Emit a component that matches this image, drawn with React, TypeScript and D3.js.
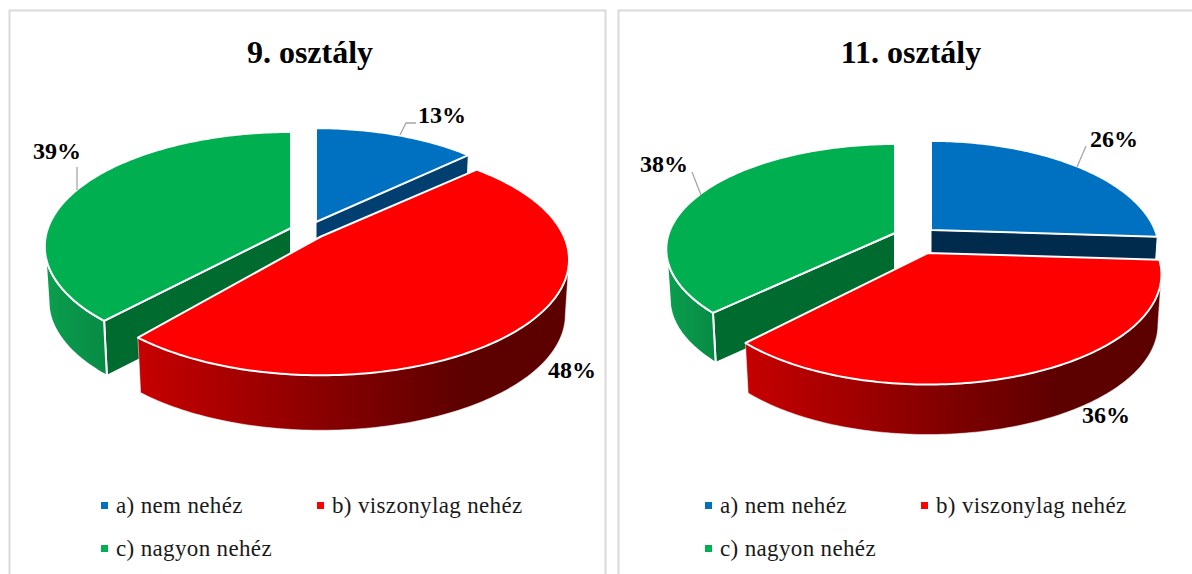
import React from "react";
import * as d3 from "d3";

const categories = ["a) nem nehéz", "b) viszonylag nehéz", "c) nagyon nehéz"];
const titleA = "9. osztály";
const titleB = "11. osztály";
const valuesA = [13, 48, 39];
const valuesB = [26, 36, 38];

// Layout of the projected slices (not data): apex, radius, squash, perspective, angle nudge
const layoutA = [
  { cx: 316, cy: 222, R: 229, ry: 107, p: 0.14, n0: 0, n1: 0 },
  { cx: 321, cy: 236.5, R: 243, ry: 111, p: 0.2, n0: 0, n1: 0 },
  { cx: 291, cy: 228, R: 243, ry: 111.5, p: 0.161, n0: 3.1, n1: 0 },
];
const layoutB = [
  { cx: 931, cy: 230, R: 224, ry: 106, p: 0.19, n0: 0, n1: 0 },
  { cx: 928, cy: 253, R: 229, ry: 106, p: 0.194, n0: 0, n1: 0 },
  { cx: 895, cy: 233, R: 226, ry: 102.7, p: 0.154, n0: 2.8, n1: 0 },
];
const labelsA = [
  { x: 442, y: 123, lead: [[400, 135], [406, 123], [416, 123]] },
  { x: 572, y: 378, lead: [] },
  { x: 57, y: 159, lead: [[77, 167], [77, 190]] },
];
const labelsB = [
  { x: 1114, y: 147, lead: [[1086, 146], [1077, 167]] },
  { x: 1106, y: 423, lead: [] },
  { x: 664, y: 172, lead: [[692, 172], [701, 195]] },
];

const TOP = ["#0070C0", "#FF0000", "#00B050"];
const SERIF = "'Liberation Serif', 'Times New Roman', serif";

type L = (typeof layoutA)[number];
const rad = (d: number) => (d * Math.PI) / 180;

function project(l: L, deg: number, depth = 0, shrink = 1): [number, number] {
  const u = Math.sin(rad(deg));
  const v = -Math.cos(rad(deg));
  const s = 1 / (1 - l.p * v);
  return [l.cx + l.R * u * s * shrink, l.cy + l.ry * v * s + depth];
}

const pie = d3.pie<number>().sort(null).value((d) => d);
const line = d3.line();

function Pie({ id, values, layout, labels, title, titleX, depth, shrink, legendX, gx }: any) {
  const arcs = pie(values);
  const deg = d3.scaleLinear().domain([0, 2 * Math.PI]).range([0, 360]);
  const gradId = (n: string) => `${id}-${n}`;
  const order = [0, 2, 1];
  const slices = arcs.map((a: any, i: number) => {
    const l = layout[i];
    const a0 = deg(a.startAngle) + l.n0;
    const a1 = deg(a.endAngle) + l.n1;
    const n = Math.max(8, Math.round(a1 - a0));
    const samples = d3.range(n + 1).map((k) => a0 + ((a1 - a0) * k) / n);
    const rim = samples.map((t) => project(l, t));
    const apex = project({ ...l, R: 0, ry: 0 }, 0);
    const top = line([apex, ...rim])! + "Z";
    const apexB: [number, number] = [apex[0], apex[1] + depth];
    const thR = (Math.acos(-l.p) * 180) / Math.PI;
    const w0 = Math.max(a0, thR);
    const w1 = Math.min(a1, 360 - thR);
    let wall = "";
    if (w1 > w0) {
      const m = Math.round(w1 - w0);
      const ss = d3.range(m + 1).map((k) => w0 + ((w1 - w0) * k) / m);
      wall =
        line([
          ...ss.map((t) => project(l, t)),
          ...ss.slice().reverse().map((t) => project(l, t, depth, shrink)),
        ])! + "Z";
    }
    const sideAt = (t: number) =>
      line([apex, project(l, t), project(l, t, depth, shrink), apexB])! + "Z";
    // blue shows its closing cut, green its opening cut
    const side = i === 0 ? sideAt(a1) : i === 2 ? sideAt(a0) : "";
    return { i, top, wall, side };
  });
  const sw = 2;
  const sideFill = [id === "a" ? "#003F70" : "#002B4C", "", "#006B2E"];
  return (
    <g>
      <defs>
        <linearGradient id={gradId("r")} gradientUnits="userSpaceOnUse" x1={gx[0]} x2={gx[1]} y1="0" y2="0">
          <stop offset="0" stopColor="#C60000" />
          <stop offset="0.5" stopColor="#800000" />
          <stop offset="0.78" stopColor="#5C0000" />
          <stop offset="1" stopColor="#5C0000" />
        </linearGradient>
        <linearGradient id={gradId("g")} gradientUnits="userSpaceOnUse" x1={gx[2]} x2={gx[3]} y1="0" y2="0">
          <stop offset="0" stopColor="#0B9E4E" />
          <stop offset="1" stopColor="#078A44" />
        </linearGradient>
      </defs>
      {order.map((i) => {
        const s = slices[i];
        return (
          <g key={i}>
            {s.side && (
              <path d={s.side} fill={sideFill[i]} stroke="#fff" strokeWidth={i === 0 ? 1 : sw} strokeLinejoin="round" />
            )}
            {s.wall && (
              <path
                d={s.wall}
                fill={i === 1 ? `url(#${gradId("r")})` : `url(#${gradId("g")})`}
                stroke="#fff"
                strokeWidth={i === 1 ? 0.5 : sw}
                strokeLinejoin="round"
              />
            )}
            <path d={s.top} fill={TOP[i]} stroke="#fff" strokeWidth={sw} strokeLinejoin="round" />
          </g>
        );
      })}
      <text x={titleX} y={63} textAnchor="middle" fontFamily={SERIF} fontWeight="bold" fontSize={32} fill="#000">
        {title}
      </text>
      {labels.map((b: any, i: number) => (
        <g key={i}>
          {b.lead.length > 0 && (
            <path d={line(b.lead)!} fill="none" stroke="#A6A6A6" strokeWidth={1.3} />
          )}
          <text x={b.x} y={b.y} textAnchor="middle" fontFamily={SERIF} fontWeight="bold" fontSize={24} fill="#000">
            {values[i]}%
          </text>
        </g>
      ))}
      {categories.map((c, i) => {
        const x = legendX + (i === 1 ? 216 : 0);
        const y = i === 2 ? 550 : 507;
        return (
          <g key={c}>
            <rect x={x} y={y - 5} width={7} height={7} fill={TOP[i]} />
            <text x={x + 15} y={y + 6} fontFamily={SERIF} fontSize={23} fill="#1a1a1a" letterSpacing={0.35}>
              {c}
            </text>
          </g>
        );
      })}
    </g>
  );
}

export default function App() {
  return (
    <svg
      width={1192}
      height={574}
      style={{ position: "absolute", left: 0, top: 0, background: "#fff" }}
    >
      <path d="M9.5 574V10.5H605.5V574" fill="none" stroke="#D9D9D9" strokeWidth={2} />
      <path d="M618.5 574V10.5H1192" fill="none" stroke="#D9D9D9" strokeWidth={2} />
      <Pie id="a" values={valuesA} layout={layoutA} labels={labelsA} title={titleA} titleX={310} depth={55} shrink={0.985} legendX={101} gx={[139, 560, 45, 110]} />
      <Pie id="b" values={valuesB} layout={layoutB} labels={labelsB} title={titleB} titleX={911} depth={50} shrink={0.985} legendX={705} gx={[746, 1150, 668, 718]} />
    </svg>
  );
}
